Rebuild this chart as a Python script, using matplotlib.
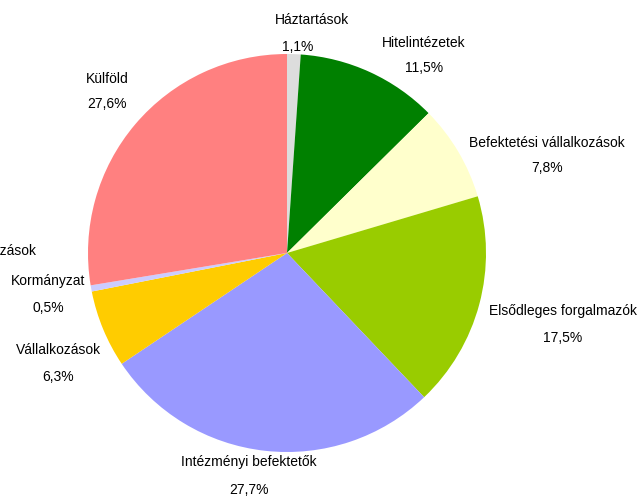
import matplotlib.pyplot as plt

labels = ['Háztartások', 'Hitelintézetek', 'Befektetési vállalkozások',
          'Elsődleges forgalmazók', 'Intézményi befektetők',
          'Vállalkozások', 'Kormányzat', 'Külföld']
shares = [1.1, 11.5, 7.8, 17.5, 27.7, 6.3, 0.5, 27.6]
colors = ['#DDDDDD', '#008000', '#FFFFCC', '#99CC00', '#9999FF',
          '#FFCC00', '#CCCCFF', '#FF8080']

# label centres in pixels (name line, value line below it)
label_pos = [(312, 20), (424, 43), (547, 143), (563, 311),
             (249, 462), (58, 350), (48, 281), (107, 79)]
value_pos = [(298, 47), (424, 68), (547, 168), (563, 338),
             (249, 490), (58, 377), (48, 308), (107, 104)]

W, H = 641, 498
fig = plt.figure(figsize=(W / 100, H / 100), dpi=100)
plt.rcParams['font.family'] = ['Liberation Sans', 'DejaVu Sans']

cx, cy, r = 287, 253, 199
ax = fig.add_axes([(cx - r) / W, (H - cy - r) / H, 2 * r / W, 2 * r / H])
ax.pie(shares, colors=colors, startangle=90, counterclock=False,
       wedgeprops={'linewidth': 0})
ax.set_xlim(-1, 1)
ax.set_ylim(-1, 1)
ax.axis('off')

for name, val, (lx, ly), (vx, vy) in zip(labels, shares, label_pos, value_pos):
    fig.text(lx / W, 1 - ly / H, name, ha='center', va='center', fontsize=10)
    fig.text(vx / W, 1 - vy / H, f'{val:.1f}%'.replace('.', ','),
             ha='center', va='center', fontsize=10)

# label of a zero-size slice, clipped by the left border as in the original
fig.text(36 / W, 1 - 251 / H, 'Pénzügyi vállalkozások', ha='right',
         va='center', fontsize=10)

fig.savefig('out.png', dpi=100)
